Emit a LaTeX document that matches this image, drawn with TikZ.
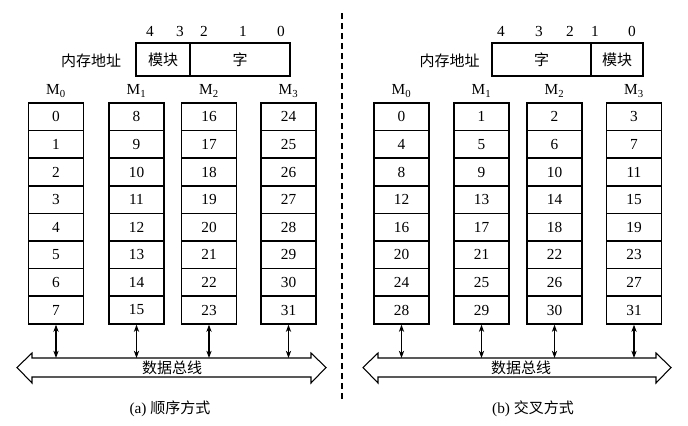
\documentclass[tikz,border=0pt]{standalone}
\usepackage{fontspec}
\setmainfont{Liberation Serif}
\newfontfamily\cjk{Noto Sans CJK SC}
\usetikzlibrary{arrows.meta,calc}
\begin{document}
\begin{tikzpicture}[x=0.75pt,y=-0.75pt,
  cell/.style={draw,line width=1.3pt,minimum width=41.25pt,minimum height=20.7pt,inner sep=0pt,font=\fontsize{11.5}{12}\selectfont},
  addr/.style={draw,line width=1.3pt,minimum height=24.75pt,inner sep=0pt,font=\cjk\fontsize{11.25}{12}\selectfont},
  lbl/.style={inner sep=0pt,font=\fontsize{11.5}{12}\selectfont},
  cjklbl/.style={inner sep=0pt,font=\cjk\fontsize{11.25}{12}\selectfont},
  busline/.style={line width=0.8pt,line join=miter},
  vio/.style={line width=0.8pt,{Stealth[length=5.5pt,width=4pt]}-{Stealth[length=5.5pt,width=4pt]}},
  sep/.style={line width=1pt,dash pattern=on 4.5pt off 3pt}
]
\useasboundingbox (0,0) rectangle (688,425);

% ---------- left panel (a) ----------
\foreach \c/\cx in {0/56,1/136.5,2/209,3/288.5}{
  \node[lbl] (LM\c) at (\cx,91) {M\textsubscript{\c}};
  \foreach \r in {0,...,7}{
    \pgfmathtruncatemacro\v{8*\c+\r}
    \node[cell] (L-\c-\r) at (\cx,{116.8+27.6*\r}) {\v};
  }
}
\node[cjklbl] (Laddrtxt) at (91,61) {内存地址};
\node[addr,minimum width=40.5pt] (Lmod) at (163,59.5) {模块};
\node[addr,minimum width=75pt] (Lword) at (240,59.5) {字};
\foreach \b/\bx in {4/150,3/180,2/204,1/243,0/281}{
  \node[lbl] (Lbit\b) at (\bx,31) {\b};
}
\draw[busline] (17,367.5) -- (32,353) -- (32,358) -- (311,358) -- (311,353) -- (326,367.5)
  -- (311,383) -- (311,377) -- (32,377) -- (32,383) -- cycle;
\node[cjklbl] (Lbus) at (172,368) {数据总线};
\coordinate (Lbustop) at (0,358);
\foreach \c in {0,...,3}{
  \draw[vio] (L-\c-7.south) -- (L-\c-7.south |- Lbustop);
}
\node[inner sep=0pt,font=\fontsize{11.5}{12}\selectfont] (Lcap) at (170,409) {(a) {\cjk\fontsize{11.25}{12}\selectfont 顺序方式}};

% ---------- separator ----------
\coordinate (septop) at (342,13);
\coordinate (sepbot) at (342,403);
\draw[sep] (septop) -- (sepbot);

% ---------- right panel (b) ----------
\foreach \c/\cx in {0/401.5,1/481.5,2/554.5,3/634}{
  \node[lbl] (RM\c) at (\cx,91) {M\textsubscript{\c}};
  \foreach \r in {0,...,7}{
    \pgfmathtruncatemacro\v{4*\r+\c}
    \node[cell] (R-\c-\r) at (\cx,{116.8+27.6*\r}) {\v};
  }
}
\node[cjklbl] (Raddrtxt) at (449.5,61) {内存地址};
\node[addr,minimum width=74.25pt] (Rword) at (541.5,59.5) {字};
\node[addr,minimum width=39pt] (Rmod) at (617,59.5) {模块};
\foreach \b/\bx in {4/501,3/539,2/570,1/595,0/632}{
  \node[lbl] (Rbit\b) at (\bx,31) {\b};
}
\draw[busline] (363,367.5) -- (378,353) -- (378,358) -- (656,358) -- (656,353) -- (671,367.5)
  -- (656,383) -- (656,377) -- (378,377) -- (378,383) -- cycle;
\node[cjklbl] (Rbus) at (521,368) {数据总线};
\coordinate (Rbustop) at (0,358);
\foreach \c in {0,...,3}{
  \draw[vio] (R-\c-7.south) -- (R-\c-7.south |- Rbustop);
}
\node[inner sep=0pt,font=\fontsize{11.5}{12}\selectfont] (Rcap) at (533,409) {(b) {\cjk\fontsize{11.25}{12}\selectfont 交叉方式}};
\end{tikzpicture}
\end{document}
